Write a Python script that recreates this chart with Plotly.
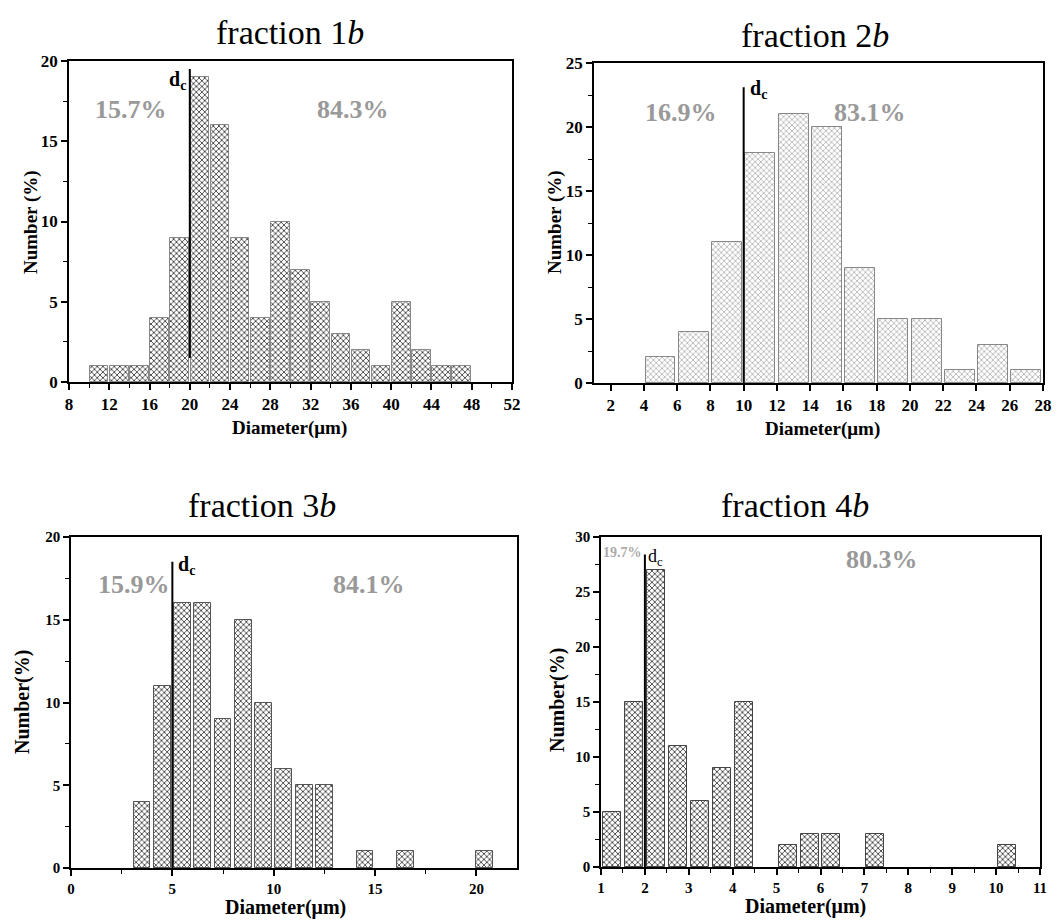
import plotly.graph_objects as go

W, H = 1058, 920

# ---------------- data ----------------
titles = ["fraction 1<i>b</i>", "fraction 2<i>b</i>", "fraction 3<i>b</i>", "fraction 4<i>b</i>"]

p1_x = [11, 13, 15, 17, 19, 21, 23, 25, 27, 29, 31, 33, 35, 37, 39, 41, 43, 45, 47]
p1_y = [1, 1, 1, 4, 9, 19, 16, 9, 4, 10, 7, 5, 3, 2, 1, 5, 2, 1, 1]

p2_x = [5, 7, 9, 11, 13, 15, 17, 19, 21, 23, 25, 27]
p2_y = [2, 4, 11, 18, 21, 20, 9, 5, 5, 1, 3, 1]

p3_x = [3.5, 4.5, 5.5, 6.5, 7.5, 8.5, 9.5, 10.5, 11.5, 12.5, 14.5, 16.5, 20.4]
p3_y = [4, 11, 16, 16, 9, 15, 10, 6, 5, 5, 1, 1, 1]

p4_x = [1.25, 1.75, 2.25, 2.75, 3.25, 3.75, 4.25, 5.25, 5.75, 6.25, 7.25, 10.25]
p4_y = [5, 15, 27, 11, 6, 9, 15, 2, 3, 3, 3, 2]

xs = [p1_x, p2_x, p3_x, p4_x]
ys = [p1_y, p2_y, p3_y, p4_y]

dc_values = [20, 10, 5, 2]
dc_bottoms = [1.5, 0, 0, 0]
dc_tops = [19.5, 23.1, 18.5, 28.4]

left_pct = ["15.7%", "16.9%", "15.9%", "19.7%"]
right_pct = ["84.3%", "83.1%", "84.1%", "80.3%"]
left_pct_pos = [(14.2, 17.0), (6.25, 21.1), (3.1, 17.1), (1.5, 28.6)]
right_pct_pos = [(36.2, 17.0), (17.6, 21.1), (14.7, 17.1), (7.4, 28.0)]

x_ranges = [[8, 52], [1, 28], [0, 22], [1, 11]]
x_tick0 = [8, 2, 0, 1]
x_dtick = [4, 2, 5, 1]
x_minor = [2, None, 2.5, 0.5]
y_ranges = [[0, 20], [0, 25], [0, 20], [0, 30]]
y_titles = ["Number (%)", "Number (%)", "Number(%)", "Number(%)"]
x_title = "Diameter(μm)"

# ---------------- layout (pixel boxes) ----------------
boxes = [(69, 512, 61, 382), (594, 1043, 63, 383), (71, 517, 537, 868), (601, 1040, 537, 867)]
bar_widths = [1.84, 1.8, 0.83, 0.41]
bar_lines = ["#888888", "#888888", "#555555", "#444444"]
pat_fg = ["#222222", "#666666", "#222222", "#222222"]
pat_size = [4, 4, 4, 4]
pat_sol = [0.35, 0.2, 0.35, 0.35]
tick_sizes = [17, 17, 15, 15]

SERIF = "Liberation Serif, Times New Roman, serif"

fig = go.Figure()
annotations = []

def px2paper(px, py):
    return px / W, 1 - py / H

for i in range(4):
    n = "" if i == 0 else str(i + 1)
    xa, ya = "x" + n, "y" + n
    fig.add_trace(go.Bar(
        x=xs[i], y=ys[i], width=bar_widths[i], xaxis=xa, yaxis=ya,
        marker=dict(color="white",
                    line=dict(color=bar_lines[i], width=1),
                    pattern=dict(shape="x", fgcolor=pat_fg[i], bgcolor="white",
                                 size=pat_size[i], solidity=pat_sol[i], fillmode="replace")),
        showlegend=False, hoverinfo="x+y"))
    fig.add_trace(go.Scatter(
        x=[dc_values[i], dc_values[i]], y=[dc_bottoms[i], dc_tops[i]],
        mode="lines", line=dict(color="black", width=2), xaxis=xa, yaxis=ya,
        showlegend=False, hoverinfo="skip"))

    x0, x1, y0, y1 = boxes[i]
    dx0, dy0 = px2paper(x0, y1)
    dx1, dy1 = px2paper(x1, y0)
    common = dict(showline=True, linecolor="black", linewidth=1.5, mirror=True,
                  ticks="outside", ticklen=6, tickwidth=1.5, tickcolor="black",
                  showgrid=False, zeroline=False, automargin=False,
                  tickfont=dict(family=SERIF, size=tick_sizes[i], color="black", weight="bold"))
    xd = dict(common, domain=[dx0, dx1], range=x_ranges[i], tick0=x_tick0[i],
              dtick=x_dtick[i], anchor=ya)
    if x_minor[i]:
        xd["minor"] = dict(dtick=x_minor[i], ticks="outside", ticklen=4,
                           tickwidth=1.2, tickcolor="black", showgrid=False)
    yd = dict(common, domain=[dy0, dy1], range=y_ranges[i], tick0=0, dtick=5,
              anchor=xa,
              minor=dict(dtick=2.5, ticks="outside", ticklen=4, tickwidth=1.2,
                         tickcolor="black", showgrid=False))
    fig.layout["xaxis" + n] = xd
    fig.layout["yaxis" + n] = yd

    small = (i == 3)
    annotations.append(dict(x=left_pct_pos[i][0], y=left_pct_pos[i][1], xref=xa, yref=ya,
                            xanchor="center", yanchor="middle",
                            text="<b>" + left_pct[i] + "</b>", showarrow=False,
                            font=dict(family=SERIF, size=14 if small else 26,
                                      color="#aaaaaa" if small else "#999999")))
    annotations.append(dict(x=right_pct_pos[i][0], y=right_pct_pos[i][1], xref=xa, yref=ya,
                            xanchor="center", yanchor="middle",
                            text="<b>" + right_pct[i] + "</b>", showarrow=False,
                            font=dict(family=SERIF, size=26, color="#999999")))
    if i == 0:
        annotations.append(dict(x=dc_values[i], y=18.8, xref=xa, yref=ya, xanchor="right",
                                yanchor="middle", xshift=-2,
                                text="<b>d<sub>c</sub></b>", showarrow=False,
                                font=dict(family=SERIF, size=20, color="black")))
    elif i == 3:
        annotations.append(dict(x=dc_values[i], y=28.1, xref=xa, yref=ya, xanchor="left",
                                yanchor="middle", xshift=1, text="d<sub>c</sub>",
                                showarrow=False,
                                font=dict(family=SERIF, size=18, color="black")))
    else:
        annotations.append(dict(x=dc_values[i], y=dc_tops[i] - 0.2, xref=xa, yref=ya,
                                xanchor="left", yanchor="middle", xshift=4,
                                text="<b>d<sub>c</sub></b>", showarrow=False,
                                font=dict(family=SERIF, size=20, color="black")))

title_px = [(290, 33), (815, 35), (262, 505), (795, 505)]
xt_px = [(289, 428), (822, 429), (285, 907), (805, 906)]
yt_px = [(31, 222), (555, 222), (22, 702), (557, 700)]
xt_size = [19, 19, 20, 20]
yt_size = [19, 19, 20, 20]
for i in range(4):
    px, py = px2paper(*title_px[i])
    annotations.append(dict(x=px, y=py, xref="paper", yref="paper", text=titles[i],
                            xanchor="center", yanchor="middle",
                            showarrow=False, font=dict(family=SERIF, size=34, color="black")))
    px, py = px2paper(*xt_px[i])
    annotations.append(dict(x=px, y=py, xref="paper", yref="paper", text="<b>" + x_title + "</b>",
                            xanchor="center", yanchor="middle",
                            showarrow=False, font=dict(family=SERIF, size=xt_size[i], color="black")))
    px, py = px2paper(*yt_px[i])
    annotations.append(dict(x=px, y=py, xref="paper", yref="paper", text="<b>" + y_titles[i] + "</b>",
                            xanchor="center", yanchor="middle",
                            textangle=-90, showarrow=False,
                            font=dict(family=SERIF, size=yt_size[i], color="black")))

fig.update_layout(template="none", width=W, height=H, margin=dict(l=0, r=0, t=0, b=0),
                  plot_bgcolor="white", paper_bgcolor="white",
                  annotations=annotations, bargap=0)

fig.write_html("out.html", config={"displayModeBar": False},
               post_script="document.body.style.margin='0';document.body.style.overflow='hidden';")
